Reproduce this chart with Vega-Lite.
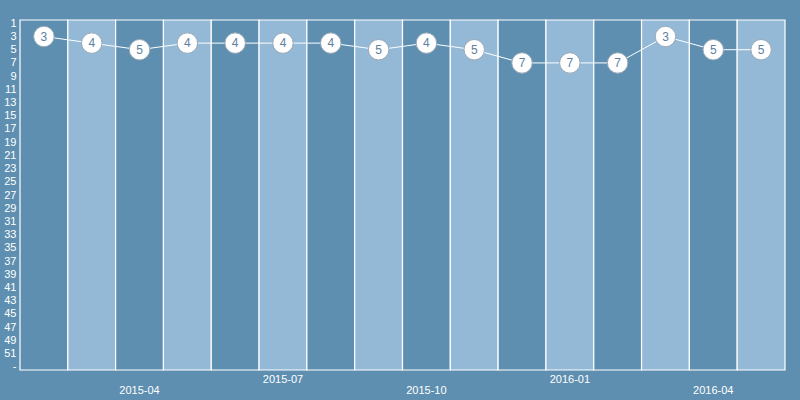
{
  "$schema": "https://vega.github.io/schema/vega-lite/v6.json",
  "width": 765,
  "height": 350,
  "autosize": {"type": "none"},
  "padding": {"left": 20, "top": 20, "right": 15, "bottom": 30},
  "background": "#5e8fb0",
  "config": {"view": {"stroke": null}, "font": "Liberation Sans"},
  "data": {"values": [
    {"month": "2015-02", "rank": 3},
    {"month": "2015-03", "rank": 4},
    {"month": "2015-04", "rank": 5},
    {"month": "2015-05", "rank": 4},
    {"month": "2015-06", "rank": 4},
    {"month": "2015-07", "rank": 4},
    {"month": "2015-08", "rank": 4},
    {"month": "2015-09", "rank": 5},
    {"month": "2015-10", "rank": 4},
    {"month": "2015-11", "rank": 5},
    {"month": "2015-12", "rank": 7},
    {"month": "2016-01", "rank": 7},
    {"month": "2016-02", "rank": 7},
    {"month": "2016-03", "rank": 3},
    {"month": "2016-04", "rank": 5},
    {"month": "2016-05", "rank": 5}
  ]},
  "transform": [{"window": [{"op": "row_number", "as": "idx"}]}],
  "encoding": {
    "x": {
      "field": "month", "type": "ordinal",
      "scale": {"paddingInner": 0, "paddingOuter": 0},
      "axis": {
        "title": null, "domain": false, "ticks": false, "labelAngle": 0,
        "values": ["2015-04", "2015-07", "2015-10", "2016-01", "2016-04"],
        "labelColor": "white", "labelFontSize": 11,
        "labelPadding": {"condition": {"test": "datum.value == '2015-07' || datum.value == '2016-01'", "value": 3}, "value": 14}
      }
    }
  },
  "layer": [
    {
      "mark": {"type": "rect", "stroke": "white", "strokeWidth": 1.2},
      "encoding": {
        "color": {
          "condition": {"test": "datum.idx % 2 == 1", "value": "#5e8fb0"},
          "value": "#93b9d6"
        }
      }
    },
    {
      "mark": {"type": "line", "color": "white", "strokeWidth": 1},
      "encoding": {"y": {"field": "rank", "type": "quantitative",
          "scale": {"domain": [0.5, 53.5], "reverse": true, "nice": false, "zero": false},
          "axis": {"title": null, "domain": false, "ticks": false, "grid": false,
            "labelOverlap": false, "labelFlush": false, "tickCount": 100,
            "values": [1,3,5,7,9,11,13,15,17,19,21,23,25,27,29,31,33,35,37,39,41,43,45,47,49,51,53],
            "labelExpr": "datum.value == 53 ? '-' : datum.value",
            "labelColor": "white", "labelFontSize": 11, "labelPadding": 4}}}
    },
    {
      "mark": {"type": "circle", "fill": "white", "opacity": 1, "stroke": "#9aa9b6", "strokeWidth": 1, "size": 420},
      "encoding": {"y": {"field": "rank", "type": "quantitative"}}
    },
    {
      "mark": {"type": "text", "color": "#5e7fa0", "fontSize": 12},
      "encoding": {"y": {"field": "rank", "type": "quantitative"}, "text": {"field": "rank"}}
    }
  ]
}
